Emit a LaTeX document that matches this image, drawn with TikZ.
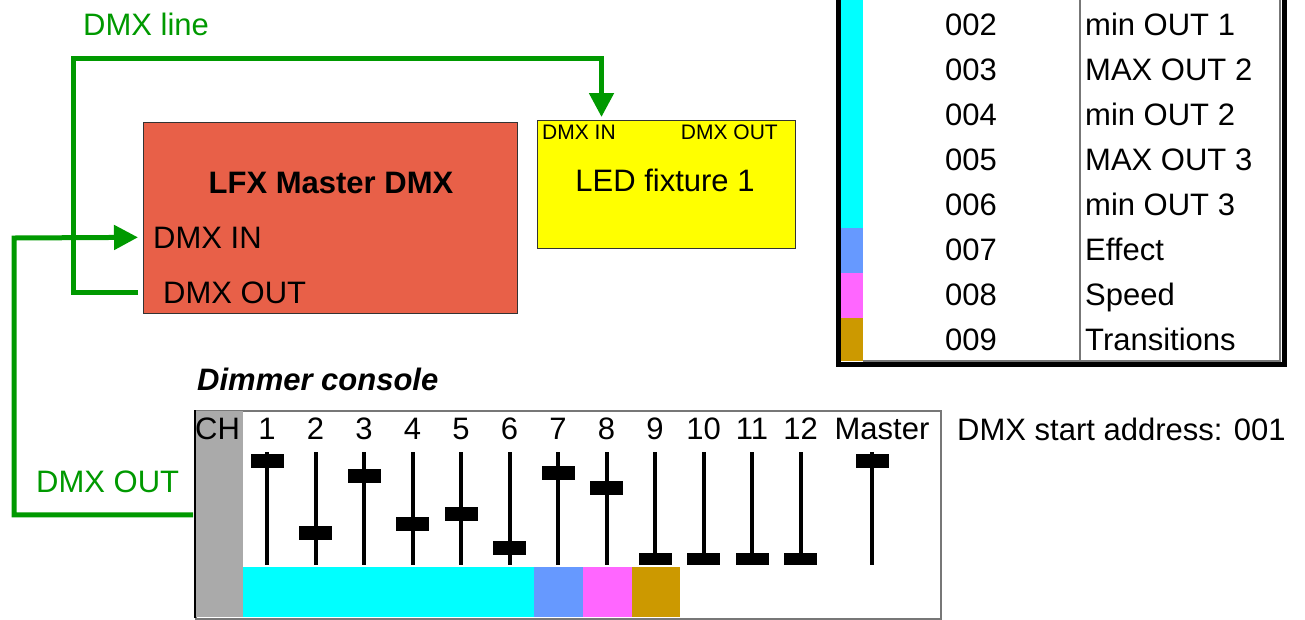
\documentclass[tikz,border=0pt]{standalone}
\usepackage{fontspec}
\setmainfont{Liberation Sans}
\usetikzlibrary{arrows.meta}
\definecolor{dmxgreen}{HTML}{009900}
\definecolor{lfxred}{HTML}{E86048}
\definecolor{ledyellow}{HTML}{FFFF00}
\definecolor{chcyan}{HTML}{00FFFF}
\definecolor{chblue}{HTML}{6699FF}
\definecolor{chpink}{HTML}{FF66FF}
\definecolor{chgold}{HTML}{CC9900}
\definecolor{chgray}{HTML}{AAAAAA}
\definecolor{rimgray}{HTML}{777777}
\begin{document}
\begin{tikzpicture}[x=1pt,y=-1pt,
  big/.style={inner sep=0pt,font=\fontsize{31}{37}\selectfont},
  small/.style={inner sep=0pt,font=\fontsize{21}{25}\selectfont},
  wire/.style={draw=dmxgreen,line width=5pt},
  tip/.style={-{Triangle[length=24pt,width=24pt]}},
  device/.style={draw=black!80,line width=1pt,inner sep=0pt,anchor=north west},
  slot/.style={draw=black,line width=4pt},
  knob/.style={fill=black,inner sep=0pt,minimum width=33pt,minimum height=14pt},
  lowknob/.style={fill=black,inner sep=0pt,minimum width=33pt,minimum height=12pt},
  rowno/.style={big,anchor=base},
  rowtxt/.style={big,anchor=base west}]
\useasboundingbox (0,0) rectangle (1305,619);

% ---- channel table (top right) ----
\fill[chcyan] (841,-10) rectangle (863,228);
\fill[chblue] (841,228) rectangle (863,273);
\fill[chpink] (841,273) rectangle (863,318);
\fill[chgold] (841,318) rectangle (863,361);
\draw[rimgray,line width=1.5pt] (1080,-10) -- (1080,361);
\draw[rimgray,line width=1.5pt] (863,361) -- (1280,361) -- (1280,-10);
\draw[black,line width=5pt] (838,-10) -- (838,364.5) -- (1284.5,364.5) -- (1284.5,-10);
\foreach \n/\t [count=\k from 0] in {002/min OUT 1,003/MAX OUT 2,004/min OUT 2,005/MAX OUT 3,006/min OUT 3,007/Effect,008/Speed,009/Transitions}{
  \node[rowno] (no\n) at (971,35.5+45*\k) {\n};
  \node[rowtxt] (tx\n) at (1085,35.5+45*\k) {\t};
}

% ---- devices ----
\node[device,fill=lfxred,minimum width=374pt,minimum height=191pt] (lfx) at (143,122) {};
\node[big,anchor=base,font=\fontsize{31}{37}\selectfont\bfseries] (lfxtitle) at (331,193) {LFX Master DMX};
\node[big,anchor=base west] (lfxin) at (153,248) {DMX IN};
\node[big,anchor=base west] (lfxout) at (163,303) {DMX OUT};

\node[device,fill=ledyellow,minimum width=258pt,minimum height=128pt] (led) at (537,120) {};
\node[small,anchor=base west] (ledin) at (542,139) {DMX IN};
\node[small,anchor=base east] (ledout) at (778,139) {DMX OUT};
\node[big,anchor=base] (ledtitle) at (665,191) {LED fixture 1};

\node[big,anchor=base west,text=dmxgreen] (linelabel) at (83,35) {DMX line};

% ---- dimmer console ----
\node[big,anchor=base west,font=\fontsize{31}{37}\selectfont\bfseries\itshape] (constitle) at (197,390) {Dimmer console};
\node[draw=rimgray,line width=1.5pt,inner sep=0pt,anchor=north west,minimum width=745pt,minimum height=208pt] (console) at (195,410) {};
\fill[chgray] (195.75,410.75) rectangle (243,617.25);
\draw[black,line width=1.5pt] (195,410) -- (195,618);
\fill[chcyan] (243,567) rectangle (534,617);
\fill[chblue] (534,567) rectangle (583,617);
\fill[chpink] (583,567) rectangle (632,617);
\fill[chgold] (632,567) rectangle (680,617);
\node[big,anchor=base west] (chlabel) at (195,439) {CH};
\foreach \c/\ky in {1/461,2/533,3/476,4/524,5/514,6/548,7/473,8/488}{
  \pgfmathsetmacro{\cx}{267+48.5*(\c-1)}
  \node[big,anchor=base] (ch\c) at (\cx,439) {\c};
  \draw[slot] (\cx,452) -- (\cx,565);
  \node[knob] (knob\c) at (\cx,\ky) {};
}
\foreach \c in {9,10,11,12}{
  \pgfmathsetmacro{\cx}{267+48.5*(\c-1)}
  \node[big,anchor=base] (ch\c) at (\cx,439) {\c};
  \draw[slot] (\cx,452) -- (\cx,565);
  \node[lowknob] (knob\c) at (\cx,559) {};
}
\node[big,anchor=base] (chmaster) at (882,439) {Master};
\draw[slot] (872,452) -- (872,565);
\node[knob] (knobmaster) at (872,461) {};
\node[big,anchor=base west] (startaddr) at (957,440) {DMX start address: 001};
\node[big,anchor=base west,text=dmxgreen] (conslabel) at (36,492) {DMX OUT};

% ---- DMX wiring ----
\coordinate (bendA) at (73,58);
\coordinate (bendB) at (14,238);
\draw[wire,tip,line join=miter] ([xshift=-5pt]lfx.west |- lfxout.west) -| (bendA) -| ([xshift=-65pt,yshift=3pt]led.north);
\draw[wire,tip,line join=miter] ([xshift=-2pt]console.west) -| (bendB) -- ([xshift=-5pt]lfx.west |- lfxin.west);
\end{tikzpicture}
\end{document}
